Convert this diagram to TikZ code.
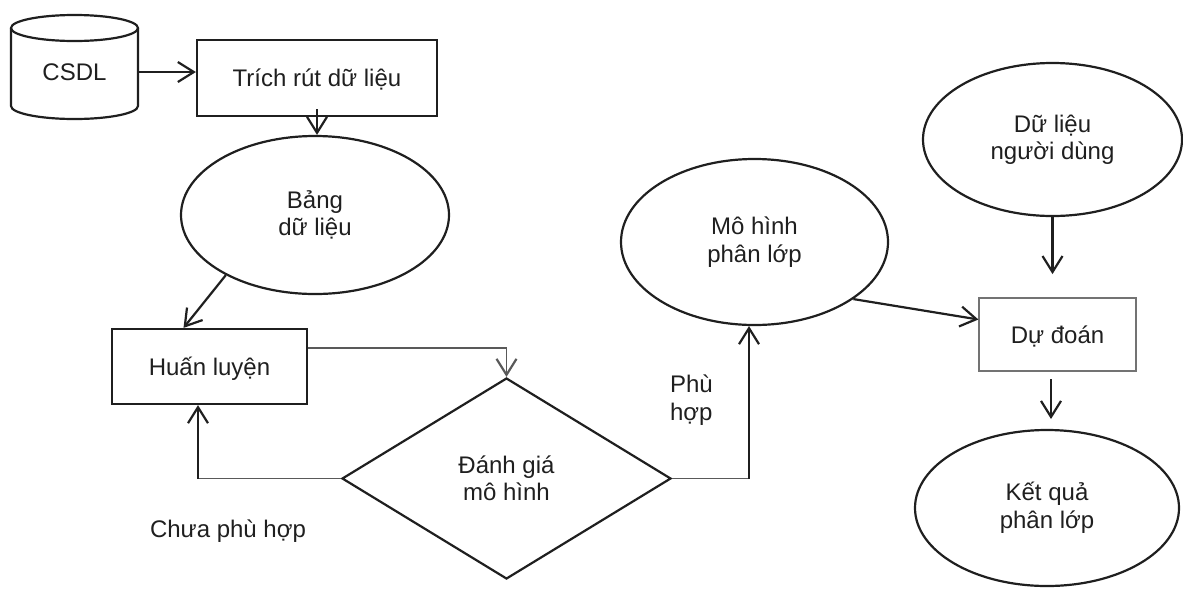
\documentclass[tikz,border=0pt]{standalone}
\usepackage{fontspec}
\setmainfont{Liberation Sans}
\usetikzlibrary{arrows.meta,shapes.geometric}
\begin{document}
\begin{tikzpicture}[x=0.5pt,y=0.5pt,
  ln/.style={line width=1.1pt, draw=black!88},
  thinln/.style={line width=0.6pt, draw=black!65},
  arr/.style={ln, -{Straight Barb[length=8pt,width=10pt,line width=1.1pt]}},
  thinarr/.style={thinln, -{Straight Barb[length=8pt,width=10pt,line width=1.1pt]}},
  box/.style={ln, rectangle, inner sep=0pt, align=center, text depth=0pt},
  oval/.style={ln, ellipse, inner sep=0pt, align=center},
  every node/.style={font=\fontsize{12}{13.75}\selectfont, text=black!88}]
\useasboundingbox (0,0) rectangle (1183,-590);

% cylinder
\draw[ln] (11,-28) -- (11,-106) arc[start angle=180,end angle=360,x radius=31.75pt,y radius=6.5pt] -- (138,-28);
\draw[ln] (74.5,-28) ellipse[x radius=31.75pt,y radius=6.5pt];
\node[minimum width=63.5pt, inner sep=0pt] (csdl) at (74.5,-72) {CSDL};

\node[box, minimum width=120pt, minimum height=38pt] (trich) at (317,-78) {Trích rút dữ liệu};
\node[oval, minimum width=134pt, minimum height=79pt] (bang) at (315,-215) {Bảng\\dữ liệu};
\node[box, minimum width=97.5pt, minimum height=37.5pt] (huan) at (209.5,-366.5) {Huấn luyện};
\node[ln, diamond, inner sep=0pt, minimum width=164.5pt, minimum height=100.5pt, align=center] (diam) at (506.5,-478.5) {Đánh giá\\mô hình};
\node[oval, minimum width=133.5pt, minimum height=83pt] (mohinh) at (754.5,-242) {Mô hình\\phân lớp};
\node[oval, minimum width=129.5pt, minimum height=76.5pt] (dulieu) at (1052.5,-139.5) {Dữ liệu\\người dùng};
\node[rectangle, draw=black!55, line width=0.6pt, inner sep=0pt, text depth=0pt, minimum width=78.5pt, minimum height=36.5pt] (dudoan) at (1057.5,-334.5) {Dự đoán};
\node[oval, minimum width=132pt, minimum height=78pt] (ketqua) at (1047,-508) {Kết quả\\phân lớp};

\node[anchor=west, align=left] (phu) at (663,-400) {Phù\\hợp};
\node (chua) at (228,-531) {Chưa phù hợp};

% connectors
\draw[arr] (csdl.east) -- (trich.west |- csdl.east);
\draw[arr] ([yshift=4pt]trich.south) -- (trich.south |- bang.north);
\draw[arr] (bang.214) -- ([xshift=-13pt]huan.north);
\draw[thinarr] ([yshift=9.25pt]huan.east) -| (diam.north);
\coordinate (fb) at ([xshift=-5.75pt]huan.south |- diam.west);
\draw[thinln] (diam.west) -- (fb);
\draw[arr] (fb) -- ([xshift=-5.75pt]huan.south);
\coordinate (pm) at ([xshift=-2.75pt]mohinh.south |- diam.east);
\draw[thinln] (diam.east) -- (pm);
\draw[arr] (pm) -- (pm |- mohinh.south);
\draw[arr] (mohinh.330) -- ([yshift=7.5pt]dudoan.west);
\coordinate (d1) at ([yshift=-28.5pt]dulieu.south);
\draw[arr] (dulieu.south) -- (d1);
\coordinate (k1) at (1051,-379);
\coordinate (k2) at (1051,-419);
\draw[arr] (k1) -- (k2);
\end{tikzpicture}
\end{document}
